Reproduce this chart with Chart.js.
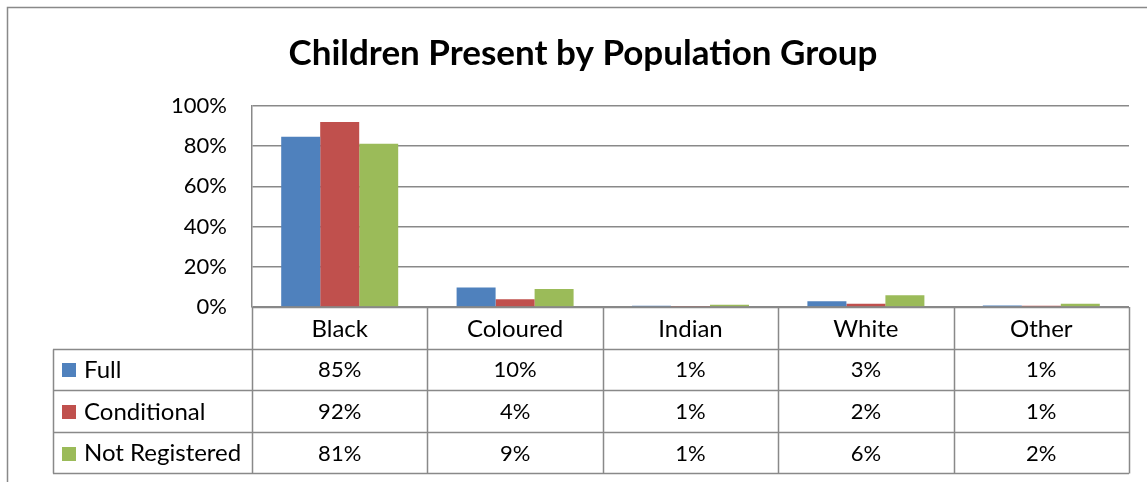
<!DOCTYPE html>
<html>
<head>
<meta charset="utf-8">
<title>Children Present by Population Group</title>
<script src="https://cdn.jsdelivr.net/npm/chart.js@4/dist/chart.umd.min.js"></script>
<style>
  html, body { margin: 0; padding: 0; background: #ffffff; }
  #wrap { width: 1147px; height: 482px; position: relative; }
</style>
</head>
<body>
<div id="wrap"><canvas id="chart" width="1147" height="482"></canvas></div>
<script>
// Population groups along the category axis
const categories = ['Black', 'Coloured', 'Indian', 'White', 'Other'];

// Share of children present (%) per registration status
const fullValues = [84.7, 9.7, 0.6, 2.8, 0.7];
const conditionalValues = [92.0, 3.9, 0.5, 1.6, 0.6];
const notRegisteredValues = [81.2, 8.9, 1.1, 5.8, 1.6];

const seriesNames = ['Full', 'Conditional', 'Not Registered'];
const seriesColors = ['#4F81BD', '#C0504D', '#9BBB59'];

// Value axis ticks
const yTicks = [0, 20, 40, 60, 80, 100];

const titleText = 'Children Present by Population Group';
const FONT = 'Lato, "Open Sans", sans-serif';
const LINE = '#898989';
const ROW_H = 41.6;       // height of each data-table row
const LEGEND_LEFT = 53;   // left edge of the legend column of the table

// Draws the outer frame, the title and the data table under the plot
const tablePlugin = {
  id: 'dataTable',
  afterDraw(chart) {
    const ctx = chart.ctx;
    const area = chart.chartArea;
    const x = chart.scales.x;
    const n = categories.length;
    const colW = (area.right - area.left) / n;
    const top = area.bottom;
    const rows = chart.data.datasets.length;
    const bottom = top + ROW_H * (rows + 1);

    ctx.save();
    // outer frame (top and left edges)
    ctx.strokeStyle = LINE;
    ctx.lineWidth = 1.5;
    ctx.beginPath();
    ctx.moveTo(7.5, chart.height + 2);
    ctx.lineTo(7.5, 7.5);
    ctx.lineTo(chart.width + 2, 7.5);
    ctx.stroke();

    // title
    ctx.fillStyle = '#000000';
    ctx.font = 'bold 35px ' + FONT;
    ctx.textAlign = 'center';
    ctx.textBaseline = 'middle';
    ctx.fillText(titleText, 583, 54);

    // table grid
    ctx.strokeStyle = LINE;
    ctx.lineWidth = 1.5;
    ctx.beginPath();
    for (let r = 0; r <= rows + 1; r++) {
      const y = Math.round(top + r * ROW_H) + 0.5;
      ctx.moveTo(r === 0 ? area.left : LEGEND_LEFT, y);
      ctx.lineTo(area.right, y);
    }
    for (let c = 0; c <= n; c++) {
      const xx = Math.round(area.left + c * colW) + 0.5;
      ctx.moveTo(xx, top);
      ctx.lineTo(xx, bottom);
    }
    const ly = Math.round(top + ROW_H) + 0.5;
    ctx.moveTo(LEGEND_LEFT + 0.5, ly);
    ctx.lineTo(LEGEND_LEFT + 0.5, Math.round(bottom) + 0.5);
    ctx.stroke();

    // category labels
    ctx.font = '24px ' + FONT;
    ctx.fillStyle = '#000000';
    ctx.textAlign = 'center';
    ctx.textBaseline = 'middle';
    categories.forEach((c, i) => {
      ctx.fillText(c, x.getPixelForValue(i), top + ROW_H / 2 + 1);
    });

    // series rows: legend key, name and rounded values
    chart.data.datasets.forEach((ds, r) => {
      const cy = top + ROW_H * (r + 1) + ROW_H / 2 + 1;
      ctx.fillStyle = ds.backgroundColor;
      ctx.fillRect(62, Math.round(cy - 7), 14, 14);
      ctx.fillStyle = '#000000';
      ctx.textAlign = 'left';
      ctx.font = '24px ' + FONT;
      ctx.fillText(ds.label, 84, cy);
      ctx.textAlign = 'center';
      ctx.font = '22px ' + FONT;
      ds.data.forEach((v, i) => {
        ctx.fillText(Math.round(v) + '%', x.getPixelForValue(i), cy);
      });
    });
    ctx.restore();
  }
};

const seriesValues = [fullValues, conditionalValues, notRegisteredValues];

new Chart(document.getElementById('chart'), {
  type: 'bar',
  data: {
    labels: categories,
    datasets: seriesNames.map((name, i) => ({
      label: name,
      data: seriesValues[i],
      backgroundColor: seriesColors[i],
      borderWidth: 0,
      categoryPercentage: 0.667,
      barPercentage: 1.0
    }))
  },
  options: {
    responsive: false,
    devicePixelRatio: 1,
    animation: false,
    layout: { padding: { top: 106, bottom: 175, right: 18, left: 0 } },
    plugins: {
      legend: { display: false },
      title: { display: false },
      tooltip: { enabled: false }
    },
    scales: {
      x: { display: false },
      y: {
        min: 0,
        max: 100,
        afterBuildTicks(scale) {
          scale.ticks = yTicks.map(v => ({ value: v }));
        },
        afterFit(scale) { scale.width = 252; },
        grid: { color: LINE, lineWidth: 1.5, drawTicks: false },
        border: { display: true, color: LINE, width: 1.5 },
        ticks: {
          padding: 25,
          color: '#000000',
          font: { family: FONT, size: 22 },
          callback: v => v + '%'
        }
      }
    }
  },
  plugins: [tablePlugin]
});
</script>
</body>
</html>
